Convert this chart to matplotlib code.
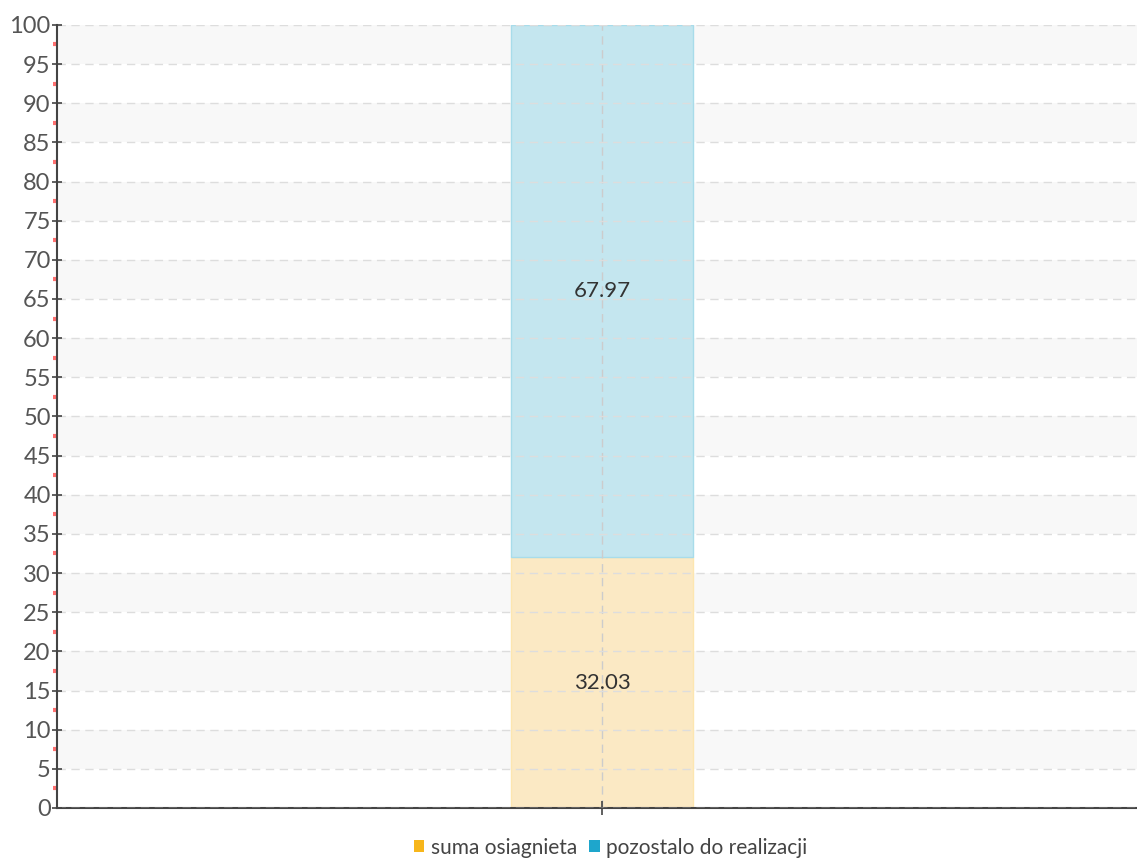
import matplotlib
matplotlib.use("Agg")
import matplotlib.pyplot as plt
from matplotlib.patches import Patch
from matplotlib.ticker import MultipleLocator

plt.rcParams['font.family'] = ['Lato', 'DejaVu Sans']

categories = ['']
achieved = [32.03]
remaining = [67.97]
series_names = ['suma osiagnieta', 'pozostalo do realizacji']
legend_colors = ['#f7b61b', '#1ea6cc']
fill_colors = ['#fbe9c4', '#c4e6ef']
edge_colors = ['#fde6b0', '#a8dcea']

fig = plt.figure(figsize=(11.37, 8.59), dpi=100)
ax = fig.add_axes([0.0501, 0.0594, 0.9499, 0.9116])

# alternating background bands
for lo in range(5, 100, 10):
    ax.axhspan(lo, lo + 5, color='#f8f8f8', zorder=0, lw=0)

ax.bar(categories, achieved, width=0.337, color=fill_colors[0],
       edgecolor=edge_colors[0], linewidth=1, zorder=2)
ax.bar(categories, remaining, bottom=achieved, width=0.337, color=fill_colors[1],
       edgecolor=edge_colors[1], linewidth=1, zorder=2)

for b, v in zip([0, achieved[0]], [achieved[0], remaining[0]]):
    ax.text(0, b + v / 2, f"{v:.2f}", ha='center', va='center',
            fontsize=16, color='#333333', zorder=4)

ax.set_xlim(-1.01, 0.99)
ax.set_ylim(0, 100)
ax.yaxis.set_major_locator(MultipleLocator(5))
ax.yaxis.set_minor_locator(MultipleLocator(2.5))
ax.grid(axis='y', which='major', linestyle=(0, (6, 4)), color='#dddddd', lw=1, zorder=1)
ax.grid(axis='x', which='major', linestyle=(0, (6, 4)), color='#cccccc', lw=1, zorder=3)
ax.set_axisbelow(False)

for s in ['top', 'right']:
    ax.spines[s].set_visible(False)
ax.spines['left'].set_color('#444444')
ax.spines['bottom'].set_color('#444444')
ax.spines['left'].set_linewidth(1.5)
ax.spines['bottom'].set_linewidth(1.5)
ax.spines['left'].set_zorder(5)

ax.tick_params(axis='y', which='major', direction='inout', length=7, width=1.2,
               color='#444444', labelsize=17, labelcolor='#555555', pad=1)
ax.tick_params(axis='y', which='minor', direction='out', length=3, width=3,
               color='#ff7070')
ax.tick_params(axis='x', which='major', direction='inout', length=10, width=1.2,
               color='#444444', labelsize=1)

handles = [Patch(facecolor=c, edgecolor='none') for c in legend_colors]
fig.legend(handles, series_names, loc='center', bbox_to_anchor=(0.537, 0.013),
           ncol=2, frameon=False, fontsize=15, handlelength=0.5, handleheight=0.5,
           handletextpad=0.3, columnspacing=0.6, labelcolor='#444444')

fig.savefig('out.png', dpi=100)
